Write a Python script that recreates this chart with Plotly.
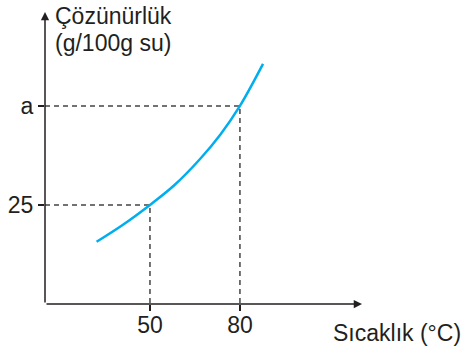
import plotly.graph_objects as go

# Data
temp = [32.2, 41, 50, 58, 66.7, 73.5, 80, 87.7]
solub = [15.7, 20.0, 25, 29.9, 36.6, 42.8, 50, 60.6]
x_ticks = [50, 80]
x_ticktext = ["50", "80"]
y_ticks = [25, 50]
y_ticktext = ["25", "a"]
x_min, x_max = 15, 120.7
y_min, y_max = 0, 73.7

FONT = "Liberation Sans, Arial, sans-serif"
INK = "#231F20"
FS = 23

fig = go.Figure()

# dashed guide lines
for xv, yv in zip(x_ticks, y_ticks):
    fig.add_trace(go.Scatter(x=[x_min, xv, xv], y=[yv, yv, y_min], mode="lines",
                             line=dict(color="#444444", width=1.5, dash="5px,4px"),
                             hoverinfo="skip", showlegend=False, cliponaxis=False))

# curve
fig.add_trace(go.Scatter(x=temp, y=solub, mode="lines",
                         line=dict(color="#00AEEF", width=2.5, shape="spline", smoothing=1.0),
                         showlegend=False))

# axes with arrows
fig.add_annotation(x=x_max, y=y_min, ax=x_min, ay=y_min, xref="x", yref="y",
                   axref="x", ayref="y", showarrow=True, arrowhead=2, arrowsize=1.1,
                   arrowwidth=1.5, arrowcolor=INK, text="")
fig.add_annotation(x=x_min, y=y_max, ax=x_min, ay=y_min, xref="x", yref="y",
                   axref="x", ayref="y", showarrow=True, arrowhead=2, arrowsize=1.1,
                   arrowwidth=1.5, arrowcolor=INK, text="")

# axis titles
fig.add_annotation(text="Çözünürlük", xref="paper", yref="paper", x=0.025, y=0.985,
                   xanchor="left", yanchor="middle", showarrow=False,
                   font=dict(family=FONT, size=FS, color=INK))
fig.add_annotation(text="(g/100g su)", xref="paper", yref="paper", x=0.025, y=0.895,
                   xanchor="left", yanchor="middle", showarrow=False,
                   font=dict(family=FONT, size=FS, color=INK))
fig.add_annotation(text="Sıcaklık (°C)", xref="paper", yref="paper", x=0.902, y=-0.099,
                   xanchor="left", yanchor="middle", showarrow=False,
                   font=dict(family=FONT, size=FS, color=INK))

fig.update_xaxes(range=[x_min, x_max], tickvals=x_ticks, ticktext=x_ticktext,
                 showgrid=False, zeroline=False, showline=False, automargin=False,
                 ticks="outside", ticklen=6, tickwidth=1.5, tickcolor=INK,
                 ticklabelstandoff=-6,
                 tickfont=dict(family=FONT, size=FS, color=INK))
fig.update_yaxes(range=[y_min, y_max], tickvals=y_ticks, ticktext=y_ticktext,
                 showgrid=False, zeroline=False, showline=False, automargin=False,
                 ticks="outside", ticklen=6, tickwidth=1.5, tickcolor=INK,
                 tickfont=dict(family=FONT, size=FS, color=INK))

fig.update_layout(width=467, height=348, margin=dict(l=45, r=105, t=12, b=44),
                  plot_bgcolor="white", paper_bgcolor="white")

fig.write_html("out.html", config={"displayModeBar": False},
               post_script="document.body.style.margin='0';")
